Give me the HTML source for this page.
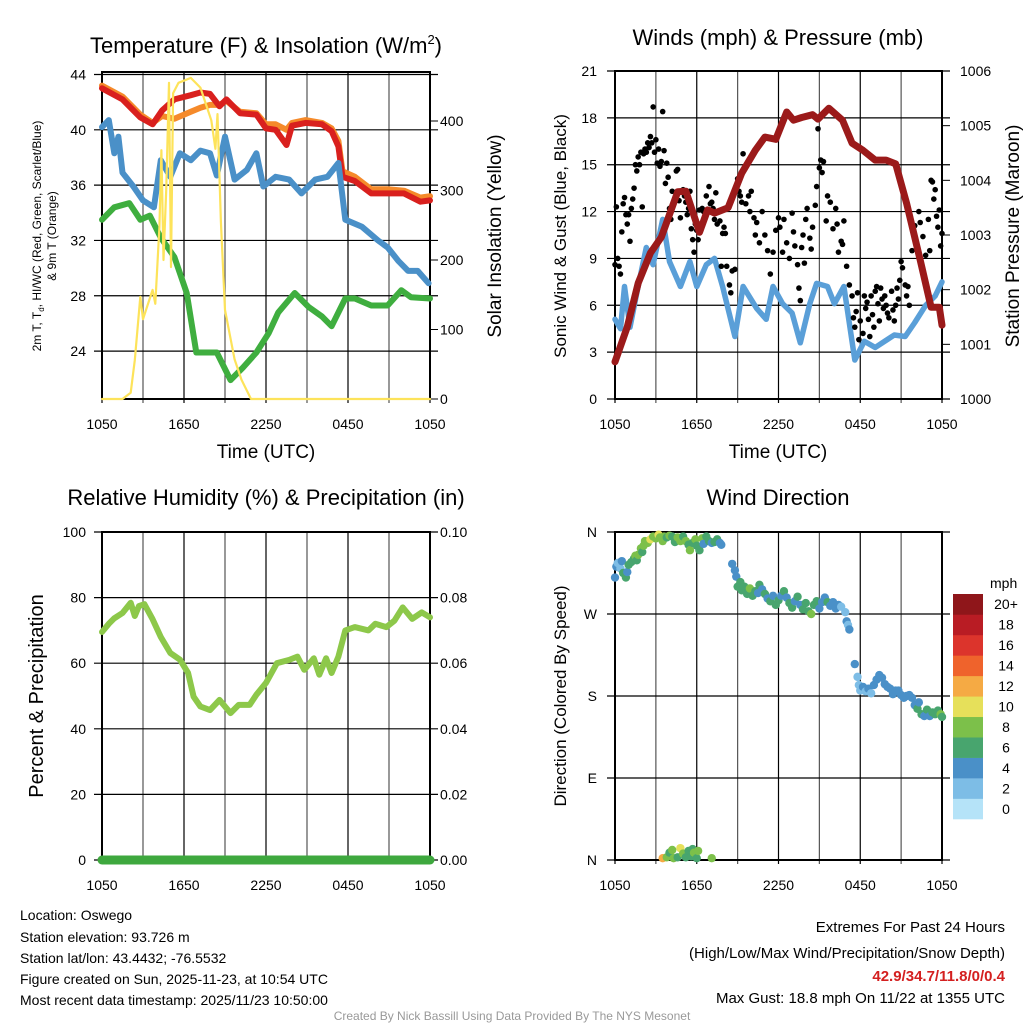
<!DOCTYPE html>
<html><head><meta charset="utf-8"><style>
body{margin:0;background:#fff;}
svg{display:block;font-family:"Liberation Sans",sans-serif;}
</style></head><body>
<svg id="s" width="1024" height="1024" viewBox="0 0 1024 1024">
<g id="g1"></g>
<g id="g2"></g>
<g id="g3"></g>
<g id="g4"></g>
<g font-size="14" fill="#000">
<text x="20" y="920">Location: Oswego</text>
<text x="20" y="942">Station elevation: 93.726 m</text>
<text x="20" y="963">Station lat/lon: 43.4432; -76.5532</text>
<text x="20" y="984">Figure created on Sun, 2025-11-23, at 10:54 UTC</text>
<text x="20" y="1005">Most recent data timestamp: 2025/11/23 10:50:00</text>
<text x="1005" y="932" text-anchor="end" font-size="15">Extremes For Past 24 Hours</text>
<text x="1005" y="958" text-anchor="end" font-size="15">(High/Low/Max Wind/Precipitation/Snow Depth)</text>
<text x="1005" y="981" text-anchor="end" font-size="15" font-weight="bold" fill="#d42020">42.9/34.7/11.8/0/0.4</text>
<text x="1005" y="1003" text-anchor="end" font-size="15">Max Gust: 18.8 mph On 11/22 at 1355 UTC</text>
<text x="512" y="1020" text-anchor="middle" font-size="12" fill="#999">Created By Nick Bassill Using Data Provided By The NYS Mesonet</text>
</g>
</svg>
<script>
const timeLabels=["1050","1650","2250","0450","1050"];
// Panel 1
const tH=[0,1.5,2.8,3.7,4.4,5.3,6.5,7.2,7.9,8.6,9.1,10.1,11.3,12.0,12.7,13.5,13.9,14.9,16.1,16.8,17.3,17.6,18.5,19.7,20.9,22.1,23.3,24];
const tempRed=[43.0,42.2,40.9,40.4,41.4,42.2,42.5,42.7,42.6,41.7,42.2,41.2,41.1,40.1,40.0,38.9,40.3,40.5,40.4,39.9,38.8,36.6,36.3,35.4,35.4,35.4,34.8,34.9];
const tempOrange=[43.2,42.4,41.1,40.5,41.0,40.8,41.3,41.6,41.8,41.8,42.1,41.3,41.2,40.4,40.4,40.0,40.5,40.7,40.5,40.1,39.2,37.0,36.6,35.7,35.7,35.6,35.1,35.2];
const wcH=[0,0.5,0.9,1.2,1.5,2.3,3.0,3.8,4.3,5.0,5.7,6.5,7.2,7.9,8.4,9.0,9.7,10.6,11.3,11.8,12.7,13.7,14.6,15.6,16.5,17.3,17.8,19.0,20.2,20.9,21.7,22.4,23.1,23.9];
const wcBlue=[40.2,40.7,38.3,39.5,36.9,35.9,34.9,34.4,37.8,36.6,38.3,37.8,38.5,38.3,36.7,39.5,36.4,37.1,38.3,35.9,36.6,36.4,35.4,36.4,36.6,37.6,33.5,33.0,32.0,31.5,30.5,29.8,29.8,28.9];
const dpH=[0,0.9,2.0,2.8,3.5,4.3,5.3,6.2,6.9,7.7,8.4,9.4,10.3,11.3,12.2,12.9,14.1,15.1,16.1,16.8,17.8,18.5,19.7,20.9,21.9,22.6,24];
const dpGreen=[33.5,34.4,34.7,33.5,33.8,32.2,30.8,28.2,23.9,23.9,23.9,21.9,22.8,23.9,25.3,26.8,28.2,27.2,26.5,25.8,27.8,27.8,27.3,27.3,28.4,27.9,27.8];
const solH=[0,1.5,2.1,2.4,2.8,3.0,3.7,3.9,4.2,4.35,4.5,4.7,4.9,5.05,5.2,5.6,6.5,7.2,8.0,8.3,8.45,8.7,9.0,9.7,10.2,10.9,24];
const solar=[0,0,9,56,147,115,157,137,247,358,200,300,455,190,440,455,462,448,401,360,410,255,128,57,28,0,0];
const tempTicks=[24,28,32,36,40,44];
const solTicks=[0,100,200,300,400];
// Panel 2
const pH=[0,0.9,1.7,2.6,3.4,4.6,5.2,6.2,6.8,7.3,8.3,9.3,10.3,11.0,11.8,12.6,13.1,13.7,14.5,14.9,15.7,16.7,17.4,18.2,19.1,19.9,20.6,21.4,22.4,23.2,23.8,24];
const pressure=[1000.68,1001.32,1002.12,1002.67,1002.96,1003.79,1003.8,1003.05,1003.46,1003.4,1003.5,1004.13,1004.55,1004.79,1004.75,1005.25,1005.1,1005.15,1005.2,1005.12,1005.32,1005.1,1004.68,1004.55,1004.37,1004.37,1004.3,1003.58,1002.54,1001.68,1001.68,1001.35];
const wH=[0,0.4,0.7,1.1,1.6,2.3,2.8,3.5,4.0,4.8,5.5,6.0,6.7,7.3,7.9,8.8,9.4,10.4,11.1,11.6,12.3,13.0,13.6,14.3,14.8,15.6,16.1,16.8,17.6,18.3,19.1,19.8,20.5,21.3,22.0,22.8,23.5,24];
const wind=[5.1,4.5,7.2,4.6,6.8,9.7,8.6,11.5,8.8,7.2,8.8,7.2,8.6,9.0,7.2,4.0,7.2,5.8,5.1,7.2,6.1,5.5,3.6,6.1,7.4,7.2,6.1,7.2,2.5,3.7,3.3,3.7,4.1,4.0,4.9,6.0,6.6,7.5];
const gH=[0,0.1,0.2,0.3,0.4,0.5,0.6,0.7,0.8,0.9,1.0,1.1,1.2,1.3,1.4,1.5,1.6,1.7,1.8,1.9,2.0,2.1,2.2,2.3,2.4,2.5,2.6,2.7,2.8,2.9,3.0,3.1,3.2,3.3,3.4,3.5,3.6,3.7,3.8,3.9,4.0,4.1,4.2,4.4,4.5,4.6,4.7,4.8,4.9,5.0,5.1,5.2,5.3,5.4,5.5,5.6,5.7,5.8,5.9,6.0,6.1,6.2,6.3,6.4,6.5,6.6,6.7,6.8,6.9,7.0,7.1,7.2,7.3,7.4,7.5,7.6,7.7,7.8,7.9,8.0,8.1,8.2,8.4,8.5,8.6,8.8,9.0,9.1,9.2,9.3,9.4,9.6,9.8,9.9,10.0,10.2,10.3,10.4,10.6,10.8,11.0,11.2,11.4,11.6,11.8,12.0,12.1,12.3,12.4,12.6,12.8,13.0,13.1,13.2,13.4,13.5,13.6,13.7,13.8,13.9,14.0,14.1,14.3,14.4,14.5,14.7,14.8,14.9,15.0,15.1,15.2,15.3,15.5,15.6,15.8,16.0,16.2,16.3,16.4,16.6,16.7,16.8,17.0,17.2,17.4,17.5,17.6,17.7,17.8,17.9,18.0,18.2,18.3,18.4,18.5,18.6,18.7,18.8,18.9,19.0,19.1,19.2,19.3,19.4,19.5,19.6,19.7,19.8,19.9,20.0,20.1,20.3,20.4,20.5,20.6,20.7,20.8,20.9,21.0,21.1,21.3,21.4,21.5,21.6,21.8,22.0,22.1,22.3,22.4,22.6,22.8,23.0,23.1,23.2,23.3,23.4,23.5,23.6,23.7,23.8,23.9,24.0];
const gust=[8.6,12.3,9.0,8.5,8.0,10.7,12.5,12.9,11.8,11.2,11.8,10.1,12.2,12.8,13.5,15.0,14.6,15.5,15.0,15.8,12.3,15.7,16.0,15.8,16.4,16.1,16.8,16.4,18.7,15.8,16.6,15.1,16.0,14.9,15.2,18.4,15.9,13.8,15.1,14.2,12.2,11.5,13.3,12.7,14.6,14.7,12.7,11.6,13.3,13.4,13.0,12.6,11.8,12.2,13.3,10.9,10.2,9.4,11.2,10.8,10.2,12.1,11.0,12.2,12.0,11.9,13.0,12.0,13.6,12.5,12.6,12.2,11.5,13.2,11.2,12.0,11.4,8.5,10.6,11.0,10.6,8.5,7.3,6.8,8.2,8.3,14.1,13.3,13.0,12.6,15.7,12.5,13.0,12.0,13.3,11.6,10.5,11.3,10.0,12.0,10.5,9.5,8.0,9.4,10.8,11.6,11.0,9.4,11.5,10.0,9.0,11.9,10.7,9.8,8.6,7.1,6.3,9.7,10.5,8.7,11.5,12.2,10.3,9.6,11.0,12.4,13.6,17.3,14.8,15.3,14.5,15.2,11.4,13.0,12.6,10.9,12.2,11.2,9.4,10.1,9.9,11.4,8.5,7.3,6.6,5.2,4.6,5.6,6.8,3.8,5.0,4.2,6.6,5.8,6.2,5.1,4.0,6.6,5.4,4.6,6.9,7.2,6.1,5.0,7.1,6.4,5.8,6.6,6.0,5.5,5.2,6.9,5.7,5.0,6.0,7.1,6.4,7.6,8.8,8.4,7.3,6.6,7.2,6.0,9.5,11.1,10.0,12.0,11.3,10.4,9.2,11.5,9.5,14.0,13.9,12.8,13.4,11.7,11.0,12.1,9.8,10.6];
const windTicks=[0,3,6,9,12,15,18,21];
const presTicks=[1000,1001,1002,1003,1004,1005,1006];
// Panel 3
const rhH=[0,0.5,0.9,1.5,2.1,2.4,2.7,3.1,3.7,4.3,5.0,5.7,6.3,6.7,7.2,7.9,8.6,9.4,10.0,10.8,11.3,12.0,12.8,13.7,14.3,14.8,15.5,15.9,16.4,16.8,17.3,17.8,18.5,19.5,20.0,20.8,21.4,22.0,22.7,23.4,24];
const rh=[69.5,72,73.7,75.3,78.4,74.4,77.4,78,73.4,68,63.1,61.1,57,49.8,46.8,45.7,48.8,44.8,47.3,47.3,50.4,54,60,61,62,58,61.5,56.5,61.5,57,62,70,71,70,72,71,73,77,73.5,75.5,74];
const precip=[0,0];
const rhTicks=[0,20,40,60,80,100];
const prTicks=["0.00","0.02","0.04","0.06","0.08","0.10"];
// Panel 4
const dH=[0.0,0.1,0.2,0.4,0.5,0.6,0.8,0.9,1.0,1.2,1.4,1.5,1.6,1.7,1.9,2.0,2.1,2.2,2.4,2.6,2.8,3.0,3.2,3.3,3.5,3.6,3.8,4.0,4.2,4.4,4.6,4.8,5.0,5.2,5.4,5.5,5.7,5.9,6.0,6.2,6.4,6.5,6.7,6.9,7.1,7.3,7.5,7.7,7.8,8.6,8.8,8.9,9.0,9.2,9.3,9.5,9.7,9.9,10.1,10.3,10.5,10.6,10.8,11.0,11.2,11.4,11.6,11.8,12.0,12.2,12.4,12.6,12.8,13.0,13.2,13.4,13.6,13.8,14.0,14.2,14.4,14.6,14.8,15.0,15.2,15.4,15.6,15.8,16.0,16.2,16.4,16.6,16.9,17.0,17.1,17.2,17.6,17.8,17.9,18.0,18.2,18.4,18.6,18.8,19.0,19.2,19.4,19.6,19.8,20.0,20.2,20.4,20.6,20.8,21.0,21.2,21.4,21.6,21.8,22.0,22.2,22.3,22.5,22.7,22.9,23.1,23.3,23.5,23.7,23.9,24.0,3.5,3.8,4.0,4.2,4.3,4.6,4.8,5.0,5.2,5.4,5.6,5.7,5.8,6.0,6.1,7.1];
const dir=[310,322,326,320,328,315,310,316,324,327,331,334,329,335,342,338,345,350,348,352,355,353,357,354,350,355,354,356,355,349,354,350,355,350,346,340,348,352,345,340,353,347,355,350,348,349,352,348,346,325,318,311,300,305,296,300,292,298,290,295,293,302,297,292,287,284,290,280,285,290,295,288,282,277,284,289,280,275,282,273,270,280,284,276,283,288,283,279,283,276,280,278,272,262,258,253,215,201,192,186,190,185,188,183,192,198,203,200,193,190,188,182,186,186,181,178,180,181,178,170,166,173,160,158,165,158,162,160,164,160,157,2,3,8,11,2,3,13,7,3,10,4,12,8,2,10,2];
const dSpd=[4,4,3,2,5,6,6,5,7,6,7,8,7,8,8,7,9,8,9,10,9,8,10,9,8,8,7,8,7,6,8,8,7,8,7,8,6,8,7,6,8,5,6,6,5,6,6,5,4,4,4,5,6,6,7,6,7,8,6,7,4,6,4,6,5,6,5,6,6,5,6,4,6,6,5,6,5,7,6,7,8,6,6,5,4,5,6,5,5,4,5,3,3,4,3,4,4,2,2,3,4,3,4,2,4,4,4,4,4,4,4,4,4,4,4,4,4,5,5,4,6,5,6,4,6,5,6,6,6,8,6,12,8,7,8,8,6,10,8,7,7,6,6,8,6,8,8];
const cbLabels=["0","2","4","6","8","10","12","14","16","18","20+"];
const cbColors=["#b5e3f8","#7dbde6","#4a90c8","#48a56e","#7cc04a","#e6e05a","#f5aa44","#ef632c","#dc342c","#b91c24","#8f161a"];

const NS="http://www.w3.org/2000/svg";
function mk(p,tag,attrs){const e=document.createElementNS(NS,tag);for(const k in attrs)e.setAttribute(k,attrs[k]);p.appendChild(e);return e;}
function txt(p,x,y,s,attrs){const e=mk(p,'text',Object.assign({x:x,y:y},attrs||{}));e.textContent=s;return e;}

function frame(g,L,T,R,B,nh,name){
  for(let k=0;k<=8;k++){const x=L+(R-L)*k/8;
    const l=mk(g,'line',{x1:x,x2:x,y1:T,y2:B+4,stroke:k%2?'#555':'#000','stroke-width':1.2});
    
    }
  for(let k=0;nh>0&&k<=nh;k++){const y=T+(B-T)*k/nh;
    const l=mk(g,'line',{x1:L-8,x2:R+8,y1:y,y2:y,stroke:'#000','stroke-width':1.2});
    
    }
  const r=mk(g,'rect',{x:L,y:T,width:R-L,height:B-T,fill:'none',stroke:'#000','stroke-width':2});
  
  
  for(let k=0;k<5;k++){const t=txt(g,L+(R-L)*k/4,B+30,timeLabels[k],{'text-anchor':'middle','font-size':14});
    
    }
}
function path(g,xs,ys,fx,fy,attrs,name){
  let d='';for(let i=0;i<xs.length;i++)d+=(i?'L':'M')+fx(xs[i]).toFixed(1)+' '+fy(ys[i]).toFixed(1);
  const p=mk(g,'path',Object.assign({d:d,fill:'none','stroke-linejoin':'round','stroke-linecap':'round'},attrs));
  
  
}

// ---- Panel 1
(function(){
const g=document.getElementById('g1');const L=102,R=430,T=72,B=399;
const x=h=>L+(R-L)*h/24, y=v=>74.5+(44-v)*13.83, ys=v=>B-v*0.695;
frame(g,L,T,R,B,0,'temp');
tempTicks.forEach(v=>{const l=mk(g,'line',{x1:L-8,x2:R+8,y1:y(v),y2:y(v),stroke:'#000','stroke-width':1.2});
  
  
  const t=txt(g,86,y(v)+5,String(v),{'text-anchor':'end','font-size':14});
  
  });
solTicks.forEach(v=>{const t=txt(g,440,ys(v)+5,String(v),{'font-size':14});
  
  
  const l=mk(g,'line',{x1:R,x2:R+8,y1:ys(v),y2:ys(v),stroke:'#000'});
  
  });
path(g,tH,tempOrange,x,y,{stroke:'#f58a2a','stroke-width':6},'temp-9m-orange-line');
path(g,tH,tempRed,x,y,{stroke:'#d9201e','stroke-width':6},'temp-2m-red-line');
path(g,wcH,wcBlue,x,y,{stroke:'#4a90c8','stroke-width':6},'windchill-blue-line');
path(g,dpH,dpGreen,x,y,{stroke:'#3fae3f','stroke-width':6},'dewpoint-green-line');
path(g,solH,solar,x,ys,{stroke:'#fde35a','stroke-width':2.2},'solar-yellow-line');
const t1=txt(g,266,53,'Temperature (F) & Insolation (W/m',{'text-anchor':'middle','font-size':22});
const sp=mk(t1,'tspan',{'font-size':13,dy:-9});sp.textContent='2';
const sp2=mk(t1,'tspan',{dy:9});sp2.textContent=')';


const a=txt(g,266,458,'Time (UTC)',{'text-anchor':'middle','font-size':19});


const b=txt(g,0,0,'Solar Insolation (Yellow)',{'text-anchor':'middle','font-size':19,transform:'translate(501,236) rotate(-90)'});


const c=txt(g,0,0,'2m T, T',{'text-anchor':'middle','font-size':12,transform:'translate(41,236) rotate(-90)'});
const cs=mk(c,'tspan',{'font-size':8,dy:3});cs.textContent='d';
const cs2=mk(c,'tspan',{dy:-3});cs2.textContent=', HI/WC (Red, Green, Scarlet/Blue)';


const d=txt(g,0,0,'& 9m T (Orange)',{'text-anchor':'middle','font-size':12,transform:'translate(56,236) rotate(-90)'});


})();

// ---- Panel 2
(function(){
const g=document.getElementById('g2');const L=615,R=942,T=71,B=399;
const x=h=>L+(R-L)*h/24, y=v=>B-v*(B-T)/21, yp=p=>B-(p-1000)*(B-T)/6;
frame(g,L,T,R,B,7,'wind');
windTicks.forEach(v=>{const t=txt(g,597,y(v)+5,String(v),{'text-anchor':'end','font-size':14});
  
  });
presTicks.forEach(v=>{const t=txt(g,960,yp(v)+5,String(v),{'font-size':14});
  
  
  const l=mk(g,'line',{x1:R,x2:R+8,y1:yp(v),y2:yp(v),stroke:'#000'});
  
  });
path(g,wH,wind,x,y,{stroke:'#5a9fd8','stroke-width':5.5},'sustained-wind-line');
gH.forEach((h,i)=>{const c=mk(g,'circle',{cx:x(h),cy:y(gust[i]),r:2.8,fill:'#000'});
  
  });
path(g,pH,pressure,x,yp,{stroke:'#9b1a1a','stroke-width':7},'pressure-line');
const t=txt(g,778,45,'Winds (mph) & Pressure (mb)',{'text-anchor':'middle','font-size':22});


const a=txt(g,778,458,'Time (UTC)',{'text-anchor':'middle','font-size':19});


const b=txt(g,0,0,'Sonic Wind & Gust (Blue, Black)',{'text-anchor':'middle','font-size':17,transform:'translate(566,236) rotate(-90)'});


const c=txt(g,0,0,'Station Pressure (Maroon)',{'text-anchor':'middle','font-size':19,transform:'translate(1019,236) rotate(-90)'});


})();

// ---- Panel 3
(function(){
const g=document.getElementById('g3');const L=102,R=430,T=532,B=860;
const x=h=>L+(R-L)*h/24, y=v=>B-v*(B-T)/100;
frame(g,L,T,R,B,5,'rh');
rhTicks.forEach((v,i)=>{const t=txt(g,86,y(v)+5,String(v),{'text-anchor':'end','font-size':14});
  
  
  const t2=txt(g,440,y(v)+5,prTicks[i],{'font-size':14});
  
  });
path(g,[0,24],precip,x,v=>B-v*(B-T)/0.1,{stroke:'#3ea83e','stroke-width':9},'precip-line');
path(g,rhH,rh,x,y,{stroke:'#8dc84a','stroke-width':6},'rh-line');
const t=txt(g,266,505,'Relative Humidity (%) & Precipitation (in)',{'text-anchor':'middle','font-size':22});


const b=txt(g,0,0,'Percent & Precipitation',{'text-anchor':'middle','font-size':20,transform:'translate(43,696) rotate(-90)'});


})();

// ---- Panel 4
(function(){
const g=document.getElementById('g4');const L=615,R=942,T=532,B=860;
const x=h=>L+(R-L)*h/24, y=d=>B-d*(B-T)/360;
frame(g,L,T,R,B,4,'dir');
['N','W','S','E','N'].forEach((s,i)=>{const t=txt(g,597,T+(B-T)*i/4+5,s,{'text-anchor':'end','font-size':14});
  
  });
dH.forEach((h,i)=>{const c=mk(g,'circle',{cx:x(h),cy:y(dir[i]),r:4.2,fill:cbColors[Math.min(10,Math.floor(dSpd[i]/2))]});
  
  });
const t=txt(g,778,505,'Wind Direction',{'text-anchor':'middle','font-size':22});


const b=txt(g,0,0,'Direction (Colored By Speed)',{'text-anchor':'middle','font-size':17,transform:'translate(566,696) rotate(-90)'});


const u=txt(g,990,588,'mph',{'font-size':14});


const bh=(819-594)/11;
cbLabels.forEach((s,i)=>{const yy=819-(i+1)*bh;
  const r=mk(g,'rect',{x:953,y:yy,width:30,height:bh+0.3,fill:cbColors[i]});
  
  
  const l=txt(g,1006,yy+bh/2+5,s,{'text-anchor':'middle','font-size':14});
  
  });
})();
</script>
</body></html>
